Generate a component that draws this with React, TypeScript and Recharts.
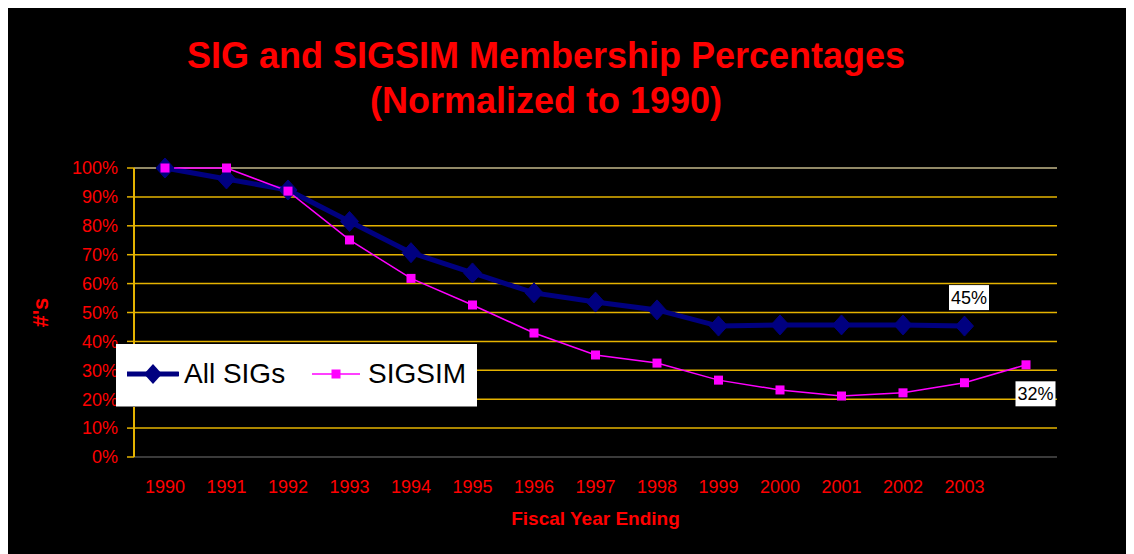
import React from 'react';
import {
  LineChart, Line, XAxis, YAxis, CartesianGrid, Legend, LabelList, ReferenceLine,
} from 'recharts';

const years = ['1990', '1991', '1992', '1993', '1994', '1995', '1996', '1997', '1998', '1999', '2000', '2001', '2002', '2003', ''];
const allSigs = [100, 96.2, 92.4, 81.5, 70.7, 63.7, 56.8, 53.6, 50.9, 45.3, 45.7, 45.7, 45.7, 45.3, null];
const sigsim = [100, 100, 92, 75.1, 61.8, 52.6, 42.9, 35.3, 32.5, 26.6, 23.2, 21.1, 22.2, 25.7, 31.9];
const yTicks = [0, 10, 20, 30, 40, 50, 60, 70, 80, 90, 100];
const titleLines = ['SIG and SIGSIM Membership Percentages', '(Normalized to 1990)'];
const allSigsLabelIndex = 13;
const sigsimLabelIndex = 14;

const data = years.map((y, i) => ({ year: y, all: allSigs[i], sigsim: sigsim[i] }));

const FONT = '"Liberation Sans", Arial, Helvetica, sans-serif';
const RED = '#ff0000';
const GOLD = '#e5b300';
const NAVY = '#000080';
const MAGENTA = '#ff00ff';

const Diamond = (props: any) => {
  const { cx, cy, index } = props;
  if (cx == null || cy == null || props.value == null) return <g key={`d${index}`} />;
  return (
    <polygon
      key={`d${index}`}
      points={`${cx},${cy - 10} ${cx + 9},${cy} ${cx},${cy + 10} ${cx - 9},${cy}`}
      fill={NAVY}
      stroke={NAVY}
    />
  );
};

const Square = (props: any) => {
  const { cx, cy, index } = props;
  if (cx == null || cy == null) return <g key={`s${index}`} />;
  return <rect key={`s${index}`} x={cx - 4.5} y={cy - 4.5} width={9} height={9} fill={MAGENTA} />;
};

const makeLabel = (target: number, dx: number, dy: number) => (props: any) => {
  const { x, y, value, index } = props;
  if (index !== target || value == null) return null;
  const cx = x + dx;
  const cy = y + dy;
  return (
    <g>
      <rect x={cx - 20} y={cy - 12.5} width={40} height={25} fill="#fff" />
      <text x={cx} y={cy + 6.5} textAnchor="middle" fontFamily={FONT} fontSize={18} fill="#000">
        {`${Math.round(value)}%`}
      </text>
    </g>
  );
};

const legendOffsets = [
  { icon: 11, text: 68 },
  { icon: 196, text: 252 },
];

const LegendContent = (props: any) => {
  const payload = props.payload || [];
  return (
    <div
      style={{
        position: 'relative',
        width: 361,
        height: 62,
        background: '#fff',
        boxShadow: '0 1px 0 #808080',
        fontFamily: FONT,
        fontSize: 28,
        color: '#000',
      }}
    >
      {payload.map((p: any, i: number) => {
        const off = legendOffsets[i] || legendOffsets[0];
        const isNavy = p.dataKey === 'all';
        return (
          <React.Fragment key={p.value}>
            <svg
              width={52}
              height={24}
              style={{ position: 'absolute', left: off.icon, top: 18 }}
            >
              {isNavy ? (
                <>
                  <line x1={0} y1={12} x2={51} y2={12} stroke={NAVY} strokeWidth={5} strokeLinecap="round" />
                  <polygon points="26,2 35,12 26,22 17,12" fill={NAVY} />
                </>
              ) : (
                <>
                  <line x1={0} y1={12} x2={48} y2={12} stroke={MAGENTA} strokeWidth={1.5} />
                  <rect x={19.5} y={7.5} width={9} height={9} fill={MAGENTA} />
                </>
              )}
            </svg>
            <span style={{ position: 'absolute', left: off.text, top: 13, lineHeight: '34px', whiteSpace: 'nowrap' }}>
              {p.value}
            </span>
          </React.Fragment>
        );
      })}
    </div>
  );
};

const YLabel = (props: any) => {
  const vb = props.viewBox || { x: 0, y: 0, width: 0, height: 0 };
  const x = vb.x + 40;
  const y = vb.y + vb.height / 2;
  return (
    <text
      x={x}
      y={y}
      transform={`rotate(-90 ${x} ${y})`}
      textAnchor="middle"
      fontFamily={FONT}
      fontWeight="bold"
      fontSize={22}
      fill={RED}
    >
      #'s
    </text>
  );
};

export default function App() {
  return (
    <div
      style={{
        position: 'relative',
        width: 1126,
        height: 550,
        marginTop: -4,
        background: '#000',
        boxShadow: 'inset 0 1px 0 #8a8a8a',
        overflow: 'hidden',
      }}
    >
      <svg width={1126} height={140} style={{ position: 'absolute', left: 0, top: 0 }}>
        {titleLines.map((t, i) => (
          <text
            key={t}
            x={538}
            y={64 + i * 45}
            textAnchor="middle"
            fontFamily={FONT}
            fontWeight="bold"
            fontSize={36}
            fill={RED}
          >
            {t}
          </text>
        ))}
      </svg>
      <div style={{ position: 'absolute', left: 0, top: 0 }}>
        <LineChart width={1126} height={550} data={data} margin={{ top: 164, right: 77, left: 0, bottom: 57 }}>
          <CartesianGrid horizontal vertical={false} stroke={GOLD} strokeWidth={1.5} />
          <ReferenceLine y={100} stroke="#8a8a8a" strokeWidth={1.5} />
          <XAxis
            dataKey="year"
            height={40}
            interval={0}
            padding={{ left: 31, right: 31 }}
            axisLine={{ stroke: '#3a3a3a', strokeWidth: 2 }}
            tickLine={false}
            tickMargin={17}
            tick={{ fill: RED, fontSize: 18, fontFamily: FONT }}
            label={{
              value: 'Fiscal Year Ending',
              position: 'insideBottom',
              offset: -28,
              fill: RED,
              fontSize: 19,
              fontWeight: 'bold',
              fontFamily: FONT,
            }}
          />
          <YAxis
            width={126}
            domain={[0, 100]}
            ticks={yTicks}
            interval={0}
            tickFormatter={(v: number) => `${v}%`}
            axisLine={{ stroke: GOLD, strokeWidth: 2 }}
            tickLine={{ stroke: GOLD, strokeWidth: 1.5 }}
            tickSize={7}
            tickMargin={9}
            tick={{ fill: RED, fontSize: 18, fontFamily: FONT }}
            label={<YLabel />}
          />
          <YAxis
            yAxisId="border"
            orientation="right"
            width={0}
            domain={[0, 100]}
            tick={false}
            tickLine={false}
            axisLine={{ stroke: '#9a9a9a', strokeWidth: 2 }}
          />
          <Legend
            verticalAlign="middle"
            align="center"
            layout="horizontal"
            wrapperStyle={{ position: 'absolute', left: 108, top: 340, width: 361, height: 62 }}
            content={<LegendContent />}
          />
          <Line
            name="All SIGs"
            dataKey="all"
            stroke={NAVY}
            strokeWidth={5}
            dot={<Diamond />}
            activeDot={false}
            isAnimationActive={false}
          >
            <LabelList dataKey="all" content={makeLabel(allSigsLabelIndex, 4.5, -28.5)} />
          </Line>
          <Line
            name="SIGSIM"
            dataKey="sigsim"
            stroke={MAGENTA}
            strokeWidth={1.5}
            dot={<Square />}
            activeDot={false}
            isAnimationActive={false}
          >
            <LabelList dataKey="sigsim" content={makeLabel(sigsimLabelIndex, 9.5, 29)} />
          </Line>
        </LineChart>
      </div>
    </div>
  );
}
